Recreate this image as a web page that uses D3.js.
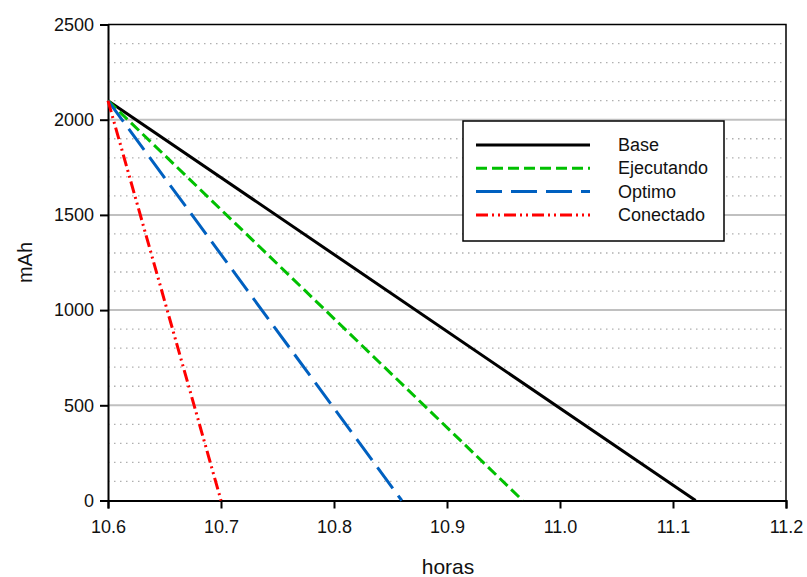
<!DOCTYPE html>
<html>
<head>
<meta charset="utf-8">
<script src="https://cdn.jsdelivr.net/npm/d3@7"></script>
<style>
  body { margin: 0; background: #fff; }
  svg { font-family: "Liberation Sans", Arial, sans-serif; }
</style>
</head>
<body>
<div id="chart"></div>
<script>
// data
const seriesNames = ["Base", "Ejecutando", "Optimo", "Conectado"];
const startHora = 10.6;
const startMah = 2100;
const endHoras = [11.12, 10.967, 10.86, 10.70];
const xTicks = [10.6, 10.7, 10.8, 10.9, 11.0, 11.1, 11.2];
const yTicks = [0, 500, 1000, 1500, 2000, 2500];

const colors = ["#000000", "#00c000", "#0060c0", "#ff0000"];
const dashes = [null, "11,5", "26,9", "12,4,2,4,2,4"];

const margin = {top: 24.5, right: 21, bottom: 76.5, left: 108},
  width = 807 - margin.left - margin.right,
  height = 577 - margin.top - margin.bottom;

const svg = d3.select("#chart").append("svg")
  .attr("width", 807).attr("height", 577)
  .append("g")
  .attr("transform", "translate(" + margin.left + "," + margin.top + ")");

const x = d3.scaleLinear().domain([10.6, 11.2]).range([0, width]);
const y = d3.scaleLinear().domain([0, 2500]).range([height, 0]);

// minor dotted grid every 100
const minor = d3.range(100, 2500, 100).filter(d => d % 500 !== 0);
svg.selectAll(".minor").data(minor).enter().append("line")
  .attr("x1", 0).attr("x2", width)
  .attr("y1", d => y(d)).attr("y2", d => y(d))
  .attr("stroke", "#b0b0b0").attr("stroke-width", 1.3)
  .attr("stroke-dasharray", "1.5,4.5");

// major grid
svg.selectAll(".major").data([500, 1000, 1500, 2000]).enter().append("line")
  .attr("x1", 0).attr("x2", width)
  .attr("y1", d => y(d)).attr("y2", d => y(d))
  .attr("stroke", "#c0c0c0").attr("stroke-width", 2);

// frame top/right
svg.append("path")
  .attr("d", "M0,0H" + width + "V" + height)
  .attr("fill", "none").attr("stroke", "#000").attr("stroke-width", 1.5);

// axes
const xAxis = svg.append("g")
  .attr("transform", "translate(0," + height + ")")
  .call(d3.axisBottom(x).tickValues(xTicks).tickFormat(d3.format(".1f")).tickSizeOuter(0).tickSize(8).tickPadding(12));
const yAxis = svg.append("g")
  .call(d3.axisLeft(y).tickValues(yTicks).tickSizeOuter(0).tickSize(8).tickPadding(6).tickFormat(d3.format("d")));
[xAxis, yAxis].forEach(a => {
  a.select(".domain").attr("stroke", "#000").attr("stroke-width", 2);
  a.selectAll(".tick line").attr("stroke", "#000").attr("stroke-width", 2);
  a.selectAll("text").attr("font-size", 18).attr("fill", "#111")
    .attr("font-family", "Liberation Sans, Arial, sans-serif");
});

// series lines
const line = d3.line().x(d => x(d[0])).y(d => y(d[1]));
seriesNames.forEach((name, i) => {
  const pts = [[startHora, startMah], [endHoras[i], 0]];
  svg.append("path")
    .datum(pts)
    .attr("fill", "none")
    .attr("stroke", colors[i])
    .attr("stroke-width", 3)
    .attr("stroke-dasharray", dashes[i])
    .attr("d", line);
});

// axis titles
svg.append("text")
  .attr("x", width / 2 + 1).attr("y", height + 73)
  .attr("text-anchor", "middle").attr("font-size", 21).attr("fill", "#111")
  .text("horas");
svg.append("text")
  .attr("transform", "translate(" + (-76) + "," + (height / 2) + ") rotate(-90)")
  .attr("text-anchor", "middle").attr("font-size", 20).attr("fill", "#111")
  .text("mAh");

// legend
const lg = svg.append("g").attr("transform", "translate(" + (463 - margin.left) + "," + (121 - margin.top) + ")");
lg.append("rect").attr("width", 261).attr("height", 120)
  .attr("fill", "#fff").attr("stroke", "#000").attr("stroke-width", 1.5);
seriesNames.forEach((name, i) => {
  const ly = 24 + i * 23.3;
  lg.append("line")
    .attr("x1", 13).attr("x2", 127).attr("y1", ly).attr("y2", ly)
    .attr("stroke", colors[i]).attr("stroke-width", 3)
    .attr("stroke-dasharray", dashes[i]);
  lg.append("text")
    .attr("x", 155).attr("y", ly + 6)
    .attr("font-size", 18).attr("fill", "#111")
    .text(name);
});
</script>
</body>
</html>
